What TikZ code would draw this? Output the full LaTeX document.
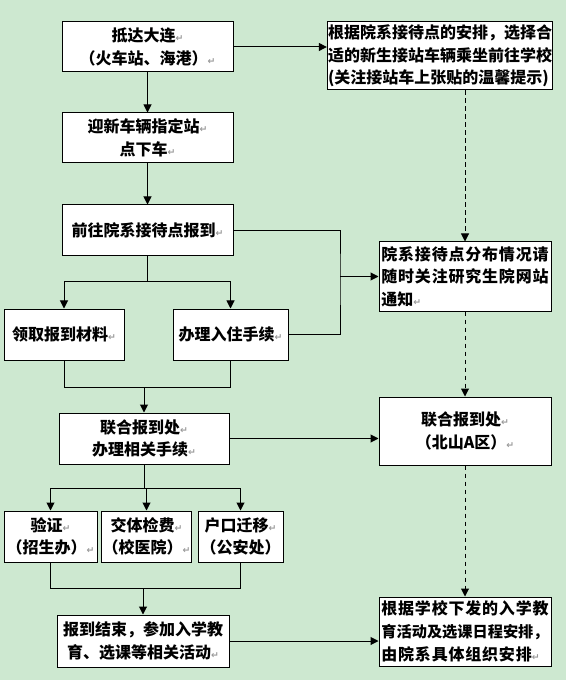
\documentclass[tikz,border=0pt]{standalone}
\usepackage{fontspec}
\setmainfont{Noto Sans CJK SC}
\newfontfamily\symf{DejaVu Sans}
\newfontfamily\widecjk{Noto Sans CJK SC}[LetterSpace=5]
\usetikzlibrary{arrows.meta}

\definecolor{bgc}{RGB}{205,232,208}
\newcommand\parmark{{\symf\fontsize{7pt}{7pt}\selectfont\color{black!40}↵}}

\begin{document}
\begin{tikzpicture}[x=0.75pt,y=-0.75pt,
  box/.style={draw,fill=white,line width=0.75pt,inner sep=0.5pt,align=center,
    font=\fontsize{12pt}{17pt}\selectfont\bfseries},
  lbox/.style={box,align=left},
  arr/.style={-{Triangle[length=6pt,width=6pt]}},
  dashline/.style={arr,dash pattern=on 3.5pt off 2.5pt},
  line width=0.75pt]
  \fill[bgc] (0,0) rectangle (566,680);
  \useasboundingbox (0,0) rectangle (566,680);

  % left column
  \node[box,minimum width=128.25pt,minimum height=37.5pt] (arrive) at (147.5,47) {抵达大连\parmark\\（火车站、海港）\parmark};
  \node[box,minimum width=128.25pt,minimum height=37.5pt] (station) at (147.5,138) {迎新车辆指定站\parmark\\点下车\parmark};
  \node[box,minimum width=128.25pt,minimum height=38.25pt] (dept) at (147.5,230.5) {前往院系接待点报到\parmark};
  \node[box,minimum width=90pt,minimum height=38.25pt] (material) at (64,334.5) {领取报到材料\parmark};
  \node[box,minimum width=86.25pt,minimum height=38.25pt] (dorm) at (230.5,334.5) {办理入住手续\parmark};
  \node[box,minimum width=127.5pt,minimum height=38.25pt] (joint) at (144,438.5) {联合报到处\parmark\\办理相关手续\parmark};
  \node[box,minimum width=69.75pt,minimum height=38.25pt] (verify) at (50.5,536.5) {验证\parmark\\（招生办）\parmark};
  \node[box,minimum width=65.25pt,minimum height=38.25pt] (health) at (146.5,536.5) {交体检费\parmark\\（校医院）\parmark};
  \node[box,minimum width=63.75pt,minimum height=38.25pt] (hukou) at (240.5,536.5) {户口迁移\parmark\\（公安处）};
  \node[box,minimum width=129pt,minimum height=39pt] (finish) at (143,641) {报到结束，参加入学教\\育、选课等相关活动\parmark};

  % right column
  \node[lbox,minimum width=166.5pt,minimum height=51pt] (bus) at (440,56) {根据院系接待点的安排，选择合\\适的新生接站车辆乘坐前往学校\\(关注接站车上张贴的温馨提示)};
  \node[lbox,minimum width=129pt,minimum height=51.75pt] (notice) at (465,276.5) {\widecjk 院系接待点分布情况请\\\widecjk 随时关注研究生院网站\\通知\parmark};
  \node[box,minimum width=129pt,minimum height=51pt] (beishan) at (465,431) {联合报到处\parmark\\（北山A区）\parmark};
  \node[lbox,minimum width=129pt,minimum height=51.75pt] (edu) at (465,631.5) {\widecjk 根据学校下发的入学教\\{\fontsize{11.4pt}{17pt}\selectfont 育活动及选课日程安排，}\\\widecjk 由院系具体组织安排\parmark};

  \coordinate (j1) at (340,276.5);
  \coordinate (j2) at (144,387);
  \coordinate (j3) at (144,488);
  \coordinate (j4) at (143,588);
  \coordinate (s1) at (147.5,282);

  \draw[arr] (arrive.east) -- (arrive.east -| bus.west);
  \draw[arr] (arrive) -- (station);
  \draw[arr] (station) -- (dept);
  \draw[dashline] (notice.north |- bus.south) -- (notice.north);
  \draw[dashline] (notice) -- (beishan);
  \draw[dashline] (beishan) -- (edu);

  \draw (dept.east) -| (j1) |- (dorm.east);
  \draw[arr] (j1) -- (notice.west);
  \draw (dept.south) -- (s1);
  \draw[arr] (s1) -| (material.north);
  \draw[arr] (s1) -| (dorm.north);

  \draw (material.south) |- (dorm.south |- j2) -- (dorm.south);
  \draw[arr] (j2) -- (joint.north);
  \draw[arr] (joint.east) -- (joint.east -| beishan.west);

  \draw (joint.south) -- (j3);
  \draw[arr] (j3) -| (verify.north);
  \draw[arr] (j3) -- (j3 -| health.north) -- (health.north);
  \draw[arr] (j3) -| (hukou.north);

  \draw (verify.south) |- (hukou.south |- j4) -- (hukou.south);
  \draw[arr] (j4) -- (finish.north);
  \draw[arr] (finish.east) -- (finish.east -| edu.west);
\end{tikzpicture}
\end{document}
